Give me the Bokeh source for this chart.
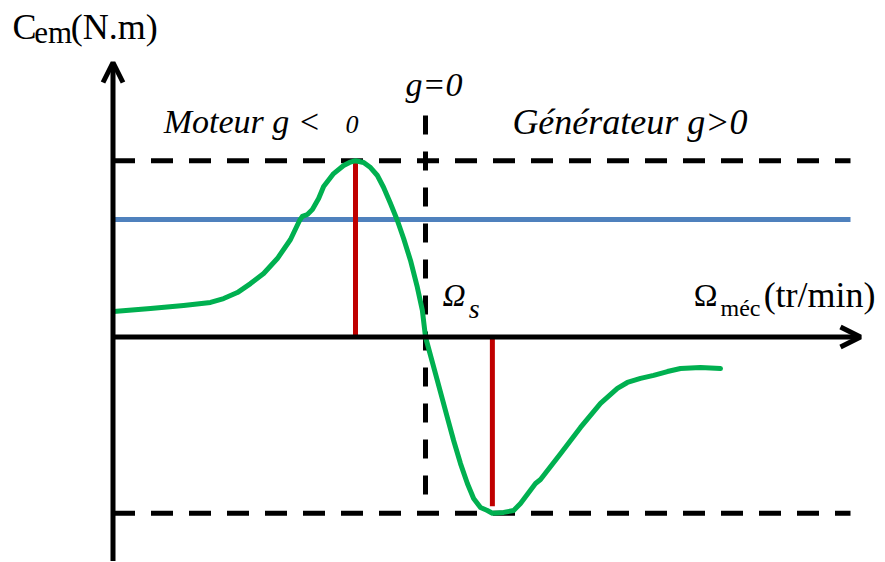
from bokeh.plotting import figure
from bokeh.models import Range1d, Arrow, OpenHead
from bokeh.core.properties import value
from bokeh.embed import file_html
from bokeh.resources import INLINE

# Normalised torque-speed characteristic: speed in units of the synchronous
# speed (Omega_s = 1), torque in units of the maximum torque.
omega = [0.002, 0.120, 0.226, 0.312, 0.354, 0.398, 0.440, 0.482, 0.526, 0.568,
         0.597, 0.606, 0.622, 0.638, 0.658, 0.674, 0.706, 0.738, 0.757, 0.776,
         0.802, 0.824, 0.846, 0.866, 0.888, 0.910, 0.930, 0.952, 0.974, 0.990,
         1.000, 1.038, 1.070, 1.090, 1.112, 1.134, 1.154, 1.176, 1.198, 1.214,
         1.250, 1.282, 1.304, 1.352, 1.368, 1.432, 1.496, 1.560, 1.614, 1.646,
         1.688, 1.730, 1.774, 1.816, 1.880, 1.944]
torque = [0.145, 0.162, 0.179, 0.196, 0.218, 0.252, 0.303, 0.360, 0.445, 0.553,
          0.661, 0.684, 0.695, 0.723, 0.786, 0.854, 0.927, 0.973, 0.990, 1.000,
          0.990, 0.961, 0.916, 0.848, 0.757, 0.661, 0.559, 0.434, 0.281, 0.150,
          0.000, -0.247, -0.457, -0.587, -0.718, -0.831, -0.916, -0.967, -0.984, -1.000,
          -0.995, -0.984, -0.944, -0.831, -0.808, -0.662, -0.513, -0.377, -0.292, -0.258,
          -0.235, -0.218, -0.196, -0.179, -0.173, -0.179]

omega_s = 1.0          # synchronous speed (g = 0)
c_max = 1.0            # motor pull-out torque
c_min = -1.0           # generator pull-out torque
omega_cmax = 0.776     # speed at motor pull-out torque
omega_cmin = 1.214     # speed at generator pull-out torque
c_load = 0.666         # load torque
x_end = 2.36           # extent of the reference lines

FONT = value("'Liberation Serif', 'Times New Roman', serif")

p = figure(width=885, height=562, x_range=Range1d(-0.36, 2.472),
           y_range=Range1d(-1.2791, 1.9087), x_axis_type=None, y_axis_type=None,
           toolbar_location=None, output_backend="svg", min_border=0)
p.grid.visible = False
p.outline_line_color = None
p.background_fill_color = "white"

# dashed limits
p.line([0, x_end], [c_max, c_max], line_color="black", line_width=5, line_dash="22 16")
p.line([0, x_end], [c_min, c_min], line_color="black", line_width=5, line_dash="22 16")
p.line([omega_s, omega_s], [1.256, c_min], line_color="black", line_width=5, line_dash="19 17")

# load torque
p.line([0, x_end], [c_load, c_load], line_color="#4F81BD", line_width=5)

# pull-out torque markers
p.line([omega_cmax, omega_cmax], [0, c_max], line_color="#C00000", line_width=5)
p.line([omega_cmin, omega_cmin], [0, -0.96], line_color="#C00000", line_width=5)

# axes with arrows
p.add_layout(Arrow(end=OpenHead(size=20, line_width=5, line_color="black"),
                   x_start=0, y_start=-1.27, x_end=0, y_end=1.557,
                   line_width=5, line_color="black"))
p.add_layout(Arrow(end=OpenHead(size=20, line_width=5, line_color="black"),
                   x_start=0, y_start=0, x_end=2.392, y_end=0,
                   line_width=5, line_color="black"))

# torque curve
p.line(omega, torque, line_color="#00B050", line_width=5,
       line_join="round", line_cap="round")

def label(x, y, txt, size, style="normal"):
    p.text([x], [y], text=[txt], text_font=FONT, text_font_size=f"{size}px",
           text_font_style=style, text_color="black",
           text_align="left", text_baseline="alphabetic")

label(-0.322, 1.760, "C", 36)
label(-0.252, 1.725, "em", 31)
label(-0.135, 1.760, "(N.m)", 36)

label(0.936, 1.435, "g=0", 34, "italic")
label(0.162, 1.222, "Moteur g <", 34, "italic")
label(0.744, 1.205, "0", 26, "italic")
label(1.278, 1.222, "Générateur g>0", 36, "italic")

label(1.054, 0.240, "Ω", 32, "italic")
label(1.138, 0.160, "s", 28, "italic")

label(1.858, 0.240, "Ω", 32)
label(1.944, 0.167, "méc", 24)
label(2.082, 0.240, "(tr/min)", 36)

open("out.html", "w").write(file_html(p, INLINE))
